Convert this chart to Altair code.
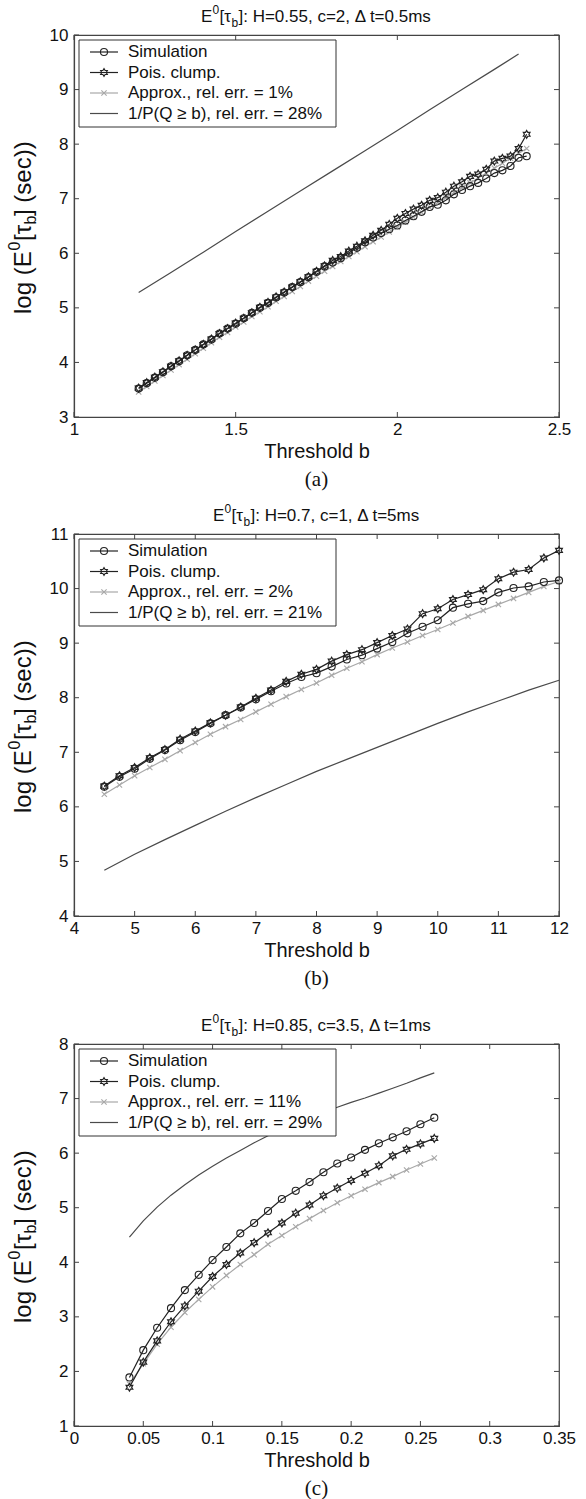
import altair as alt
import pandas as pd

# ---------------- Panel (a) ----------------
a_b = [1.2, 1.225, 1.25, 1.275, 1.3, 1.325, 1.35, 1.375, 1.4, 1.425, 1.45, 1.475,
       1.5, 1.525, 1.55, 1.575, 1.6, 1.625, 1.65, 1.675, 1.7, 1.725, 1.75, 1.775,
       1.8, 1.825, 1.85, 1.875, 1.9, 1.925, 1.95, 1.975, 2.0, 2.025, 2.05, 2.075,
       2.1, 2.125, 2.15, 2.175, 2.2, 2.225, 2.25, 2.275, 2.3, 2.325, 2.35, 2.375, 2.4]
a_sim = [3.52, 3.62, 3.72, 3.82, 3.93, 4.02, 4.13, 4.23, 4.33, 4.42, 4.53, 4.62,
         4.71, 4.81, 4.91, 5.00, 5.09, 5.19, 5.28, 5.38, 5.47, 5.56, 5.66, 5.76,
         5.83, 5.91, 6.01, 6.10, 6.20, 6.29, 6.37, 6.44, 6.51, 6.60, 6.68, 6.76,
         6.85, 6.89, 6.97, 7.08, 7.16, 7.23, 7.29, 7.37, 7.47, 7.52, 7.60, 7.75, 7.78]
a_pois = [3.53, 3.63, 3.73, 3.83, 3.93, 4.03, 4.13, 4.23, 4.33, 4.43, 4.53, 4.62,
          4.72, 4.81, 4.91, 5.01, 5.10, 5.20, 5.29, 5.38, 5.48, 5.57, 5.67, 5.77,
          5.87, 5.94, 6.04, 6.13, 6.23, 6.33, 6.42, 6.53, 6.64, 6.73, 6.81, 6.88,
          6.97, 7.02, 7.12, 7.23, 7.31, 7.41, 7.45, 7.54, 7.69, 7.74, 7.78, 7.92, 8.18]
a_approx = [3.46, 3.56, 3.66, 3.76, 3.86, 3.96, 4.06, 4.16, 4.26, 4.36, 4.46, 4.55,
            4.65, 4.74, 4.84, 4.93, 5.02, 5.12, 5.21, 5.30, 5.39, 5.49, 5.58, 5.67,
            5.76, 5.85, 5.94, 6.03, 6.12, 6.21, 6.30, 6.39, 6.48, 6.57, 6.66, 6.75,
            6.84, 6.93, 7.02, 7.11, 7.20, 7.29, 7.38, 7.47, 7.56, 7.65, 7.74, 7.83, 7.92]
a_inv_b = [1.2, 1.3, 1.4, 1.5, 1.6, 1.7, 1.8, 1.9, 2.0, 2.1, 2.2, 2.3, 2.375]
a_inv = [5.28, 5.65, 6.02, 6.40, 6.77, 7.14, 7.51, 7.88, 8.25, 8.63, 9.00, 9.37, 9.65]
a_xticks = [1, 1.5, 2, 2.5]
a_yticks = [3, 4, 5, 6, 7, 8, 9, 10]

# ---------------- Panel (b) ----------------
b_b = [4.5, 4.75, 5.0, 5.25, 5.5, 5.75, 6.0, 6.25, 6.5, 6.75, 7.0, 7.25, 7.5, 7.75,
       8.0, 8.25, 8.5, 8.75, 9.0, 9.25, 9.5, 9.75, 10.0, 10.25, 10.5, 10.75, 11.0,
       11.25, 11.5, 11.75, 12.0]
b_sim = [6.37, 6.55, 6.70, 6.88, 7.04, 7.22, 7.37, 7.53, 7.68, 7.82, 7.97, 8.12,
         8.26, 8.38, 8.45, 8.57, 8.70, 8.78, 8.90, 9.02, 9.18, 9.30, 9.42, 9.65,
         9.72, 9.77, 9.93, 10.01, 10.04, 10.12, 10.15]
b_pois = [6.38, 6.57, 6.72, 6.90, 7.05, 7.24, 7.39, 7.54, 7.68, 7.83, 7.99, 8.14,
          8.30, 8.43, 8.52, 8.67, 8.79, 8.88, 9.01, 9.14, 9.26, 9.54, 9.63, 9.80,
          9.89, 9.98, 10.18, 10.30, 10.35, 10.56, 10.70]
b_approx = [6.23, 6.40, 6.57, 6.72, 6.87, 7.03, 7.18, 7.33, 7.47, 7.60, 7.74, 7.88,
            8.02, 8.15, 8.27, 8.41, 8.54, 8.66, 8.79, 8.91, 9.02, 9.14, 9.25, 9.37,
            9.49, 9.60, 9.71, 9.82, 9.93, 10.04, 10.13]
b_inv_b = [4.5, 5.0, 5.5, 6.0, 6.5, 7.0, 7.5, 8.0, 8.5, 9.0, 9.5, 10.0, 10.5, 11.0, 11.5, 12.0]
b_inv = [4.84, 5.13, 5.40, 5.66, 5.92, 6.17, 6.41, 6.65, 6.87, 7.09, 7.31, 7.53, 7.74, 7.94, 8.14, 8.32]
b_xticks = [4, 5, 6, 7, 8, 9, 10, 11, 12]
b_yticks = [4, 5, 6, 7, 8, 9, 10, 11]

# ---------------- Panel (c) ----------------
c_b = [0.04, 0.05, 0.06, 0.07, 0.08, 0.09, 0.10, 0.11, 0.12, 0.13, 0.14, 0.15,
       0.16, 0.17, 0.18, 0.19, 0.20, 0.21, 0.22, 0.23, 0.24, 0.25, 0.26]
c_sim = [1.89, 2.39, 2.80, 3.16, 3.49, 3.77, 4.04, 4.28, 4.53, 4.72, 4.94, 5.16,
         5.31, 5.47, 5.65, 5.81, 5.92, 6.06, 6.18, 6.29, 6.40, 6.53, 6.65]
c_pois = [1.71, 2.17, 2.56, 2.91, 3.20, 3.47, 3.74, 3.96, 4.17, 4.36, 4.54, 4.72,
          4.90, 5.05, 5.22, 5.36, 5.50, 5.63, 5.77, 5.95, 6.07, 6.17, 6.27]
c_approx = [1.77, 2.14, 2.50, 2.81, 3.08, 3.32, 3.55, 3.76, 3.96, 4.14, 4.33, 4.49,
            4.65, 4.80, 4.95, 5.09, 5.22, 5.34, 5.46, 5.57, 5.69, 5.80, 5.91]
c_inv_b = [0.04, 0.05, 0.06, 0.07, 0.08, 0.09, 0.10, 0.11, 0.12, 0.13, 0.14, 0.15,
           0.16, 0.17, 0.18, 0.19, 0.20, 0.21, 0.22, 0.23, 0.24, 0.25, 0.26]
c_inv = [4.46, 4.76, 5.01, 5.23, 5.42, 5.60, 5.76, 5.91, 6.05, 6.19, 6.32, 6.44,
         6.55, 6.65, 6.75, 6.84, 6.93, 7.01, 7.10, 7.19, 7.28, 7.38, 7.47]
c_xticks = [0, 0.05, 0.1, 0.15, 0.2, 0.25, 0.3, 0.35]
c_yticks = [1, 2, 3, 4, 5, 6, 7, 8]

titles = ["]: H=0.55, c=2, \u0394 t=0.5ms", "]: H=0.7, c=1, \u0394 t=5ms", "]: H=0.85, c=3.5, \u0394 t=1ms"]
approx_err = ["1%", "2%", "11%"]
inv_err = ["28%", "21%", "29%"]
captions = ["(a)", "(b)", "(c)"]

# ---------------- styling ----------------
W, H = 485, 382
FONT = "Liberation Sans"
BLACK = "#222222"
GRAY = "#a8a8a8"
INVC = "#4a4a4a"
HEX = ("M0,-1L0.289,-0.5L0.866,-0.5L0.577,0L0.866,0.5L0.289,0.5L0,1L-0.289,0.5"
       "L-0.866,0.5L-0.577,0L-0.866,-0.5L-0.289,-0.5Z")
XSHAPE = "M-1,-1L1,1M-1,1L1,-1"
ONE = pd.DataFrame({"k": [0]})


def txt(text, x, y, size, align="left", dx=0, dy=0, angle=0, font=FONT, baseline="middle"):
    kw = dict(text=text, align=align, baseline=baseline, fontSize=size, font=font,
              color="#111111", dx=dx, dy=dy)
    if angle:
        kw["angle"] = angle
    return alt.Chart(ONE).mark_text(**kw).encode(x=alt.value(x), y=alt.value(y))


def panel(bv, sim, pois, approx, invb, inv, xdom, ydom, xticks, yticks, idx, title_x0):
    X = alt.X("b:Q", scale=alt.Scale(domain=xdom, nice=False, zero=False),
              axis=alt.Axis(values=xticks, format=".3~f", title="Threshold b", ticks=False,
                            grid=False, labelFontSize=17, titleFontSize=20, labelPadding=4,
                            titlePadding=4, labelOverlap=False, labelFlush=False,
                            titleFontWeight="normal"))
    Y = alt.Y("v:Q", scale=alt.Scale(domain=ydom, nice=False, zero=False),
              axis=alt.Axis(values=yticks, format=".3~f", title=None, ticks=False, grid=False,
                            labelFontSize=17, labelPadding=6, labelOverlap=False,
                            labelFlush=False))
    d_sim = pd.DataFrame({"b": bv, "v": sim})
    d_pois = pd.DataFrame({"b": bv, "v": pois})
    d_ap = pd.DataFrame({"b": bv, "v": approx})
    d_inv = pd.DataFrame({"b": invb, "v": inv})
    d_xt = pd.DataFrame({"b": xticks})
    d_yt = pd.DataFrame({"v": yticks})

    layers = [
        alt.Chart(d_xt).mark_rule(color="#444", strokeWidth=1).encode(x=X, y=alt.value(H), y2=alt.value(H - 5)),
        alt.Chart(d_xt).mark_rule(color="#444", strokeWidth=1).encode(x=X, y=alt.value(0), y2=alt.value(5)),
        alt.Chart(d_yt).mark_rule(color="#444", strokeWidth=1).encode(y=Y, x=alt.value(0), x2=alt.value(5)),
        alt.Chart(d_yt).mark_rule(color="#444", strokeWidth=1).encode(y=Y, x=alt.value(W), x2=alt.value(W - 5)),
        alt.Chart(d_inv).mark_line(color=INVC, strokeWidth=1.2).encode(x=X, y=Y),
        alt.Chart(d_ap).mark_line(color=GRAY, strokeWidth=1.2).encode(x=X, y=Y),
        alt.Chart(d_ap).mark_point(shape=XSHAPE, color=GRAY, size=28, strokeWidth=1.1, filled=False, opacity=1).encode(x=X, y=Y),
        alt.Chart(d_pois).mark_line(color=BLACK, strokeWidth=1.2).encode(x=X, y=Y),
        alt.Chart(d_pois).mark_point(shape=HEX, color=BLACK, size=60, strokeWidth=1.2, filled=False, opacity=1).encode(x=X, y=Y),
        alt.Chart(d_sim).mark_line(color=BLACK, strokeWidth=1.2).encode(x=X, y=Y),
        alt.Chart(d_sim).mark_point(shape="circle", color=BLACK, size=50, strokeWidth=1.1, filled=False, opacity=1).encode(x=X, y=Y),
    ]

    # legend box
    layers.append(alt.Chart(ONE).mark_rect(fill="white", stroke="#333", strokeWidth=1).encode(
        x=alt.value(5), x2=alt.value(262), y=alt.value(5), y2=alt.value(92)))
    entries = [
        ("Simulation", BLACK, "circle", 50),
        ("Pois. clump.", BLACK, HEX, 60),
        ("Approx., rel. err. = " + approx_err[idx], GRAY, XSHAPE, 28),
        ("1/P(Q \u2265 b), rel. err. = " + inv_err[idx], INVC, None, 0),
    ]
    rows = [17, 37.5, 58, 78.5]
    for (lab, col, shp, sz), ry in zip(entries, rows):
        layers.append(alt.Chart(ONE).mark_rule(color=col, strokeWidth=1.2).encode(
            x=alt.value(16), x2=alt.value(44), y=alt.value(ry)))
        if shp:
            layers.append(alt.Chart(ONE).mark_point(shape=shp, color=col, size=sz, strokeWidth=1.1,
                                                    filled=False, opacity=1).encode(
                x=alt.value(30), y=alt.value(ry)))
        layers.append(txt(lab, 54, ry, 17))

    # title with superscript / subscript
    ty = -18
    layers += [
        txt("E", title_x0, ty, 17),
        txt("0", title_x0, ty, 12, dx=11.5, dy=-7),
        txt("[\u03c4", title_x0, ty, 17, dx=18.5),
        txt("b", title_x0, ty, 12, dx=30.5, dy=6),
        txt(titles[idx], title_x0, ty, 17, dx=37.5),
    ]

    # rotated y-axis title: log (E^0[tau_b] (sec))
    yx, yy = -50, H / 2 - 10 + 98
    layers += [
        txt("log (E", yx, yy, 24, angle=270),
        txt("0", yx, yy, 16, angle=270, dx=63.5, dy=-9),
        txt("[\u03c4", yx, yy, 24, angle=270, dx=73),
        txt("b", yx, yy, 16, angle=270, dx=89.5, dy=7),
        txt("] (sec))", yx, yy, 24, angle=270, dx=98),
    ]

    # caption
    layers.append(txt(captions[idx], W / 2, H + 63, 21, align="center", font="Liberation Serif"))

    return alt.layer(*layers).properties(width=W, height=H)


pa = panel(a_b, a_sim, a_pois, a_approx, a_inv_b, a_inv, [1, 2.5], [3, 10], a_xticks, a_yticks, 0, 127)
pb = panel(b_b, b_sim, b_pois, b_approx, b_inv_b, b_inv, [4, 12], [4, 11], b_xticks, b_yticks, 1, 139)
pc = panel(c_b, c_sim, c_pois, c_approx, c_inv_b, c_inv, [0, 0.35], [1, 8], c_xticks, c_yticks, 2, 127)

chart = alt.vconcat(alt.vconcat(pa, pb, spacing=11), pc, spacing=22).properties(
    padding={"left": 6, "top": 3, "right": 5, "bottom": 2},
    background="white",
).configure_view(stroke="#444", strokeWidth=1.2).configure_axis(
    domainColor="#444", domainWidth=1.2, labelColor="#111", titleColor="#111",
    labelFont=FONT, titleFont=FONT,
)

chart.save("out.html", embed_options={"renderer": "svg", "actions": False})
